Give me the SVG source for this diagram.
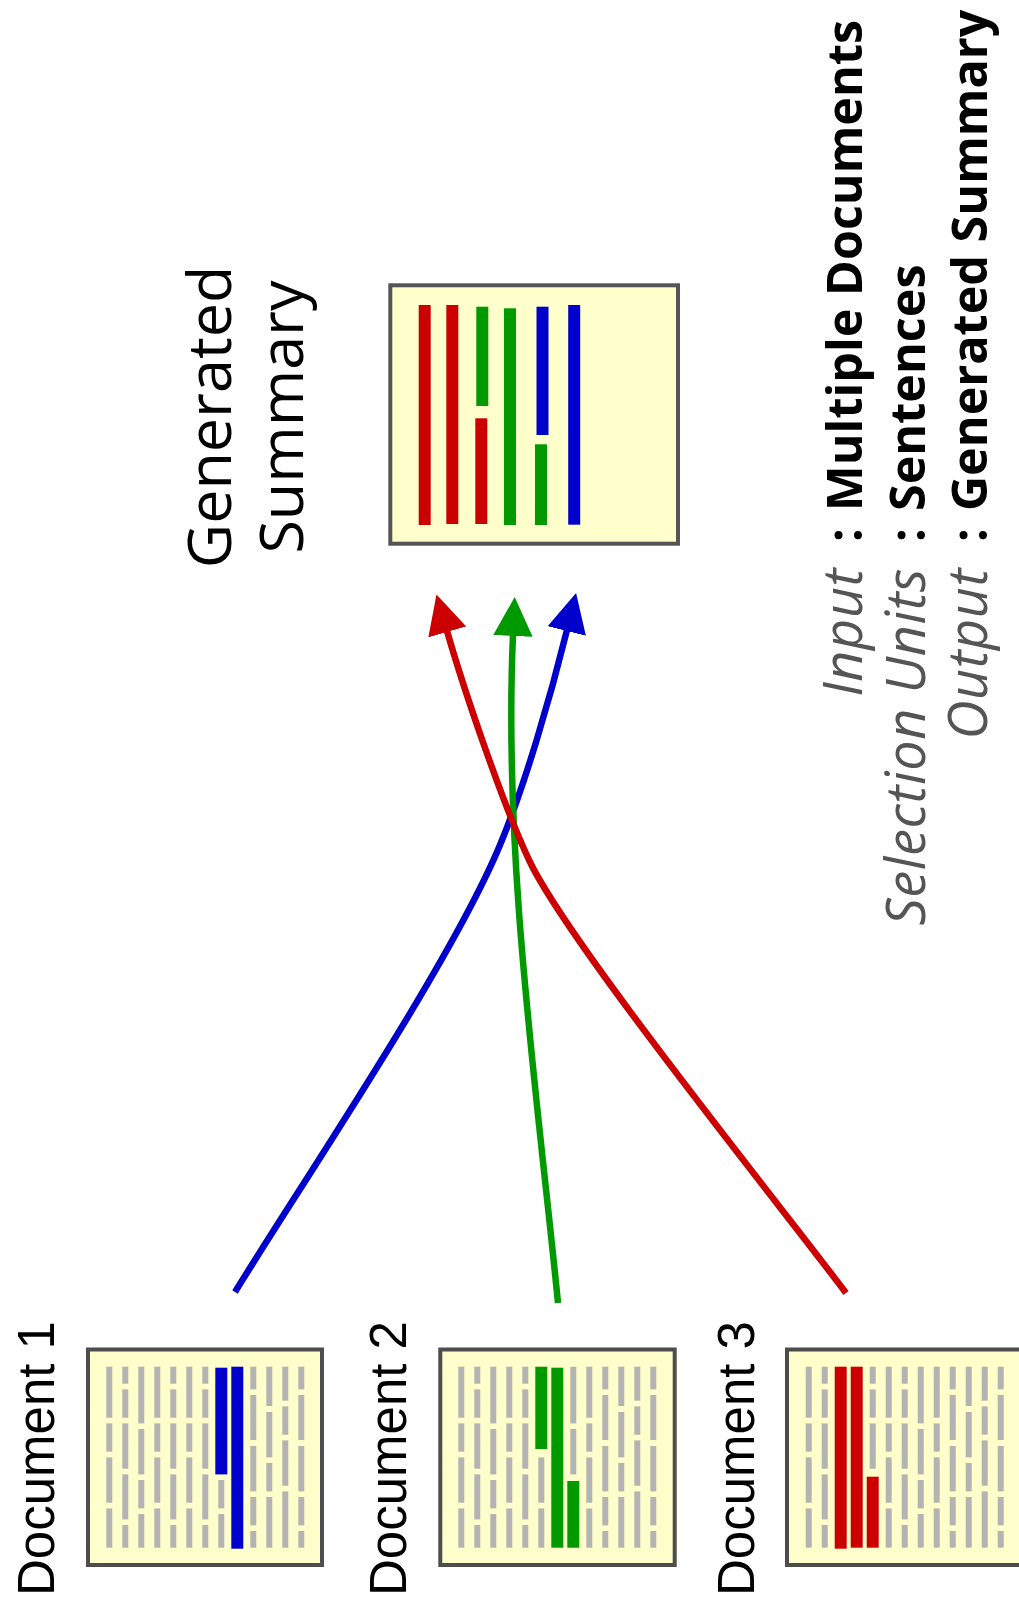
<svg xmlns="http://www.w3.org/2000/svg" xmlns:xlink="http://www.w3.org/1999/xlink" width="1019" height="1605" viewBox="0 0 1019 1605">
  <style>
    .page { fill: #FFFFCC; stroke: #4D4D4D; stroke-width: 4; }
    .sum { fill: #FFFFCC; stroke: #555555; stroke-width: 4; }
    .g { fill: #B3B3B3; }
    .r { fill: #CC0000; }
    .gr { fill: #009900; }
    .b { fill: #0000CC; }
    .lbl { font-family: "Liberation Sans", Arial, sans-serif; font-size: 51px; fill: #000; }
    .title { font-family: "Open Sans", "DejaVu Sans", sans-serif; font-size: 61px; fill: #000; text-anchor: middle; }
    .key { font-family: "Open Sans", "DejaVu Sans", sans-serif; font-size: 54px; letter-spacing: 0.6px; font-style: italic; fill: #555555; text-anchor: end; }
    .colon { font-family: "Open Sans", "DejaVu Sans", sans-serif; font-size: 48.5px; font-weight: bold; fill: #000; text-anchor: middle; }
    .val { font-family: "Open Sans", "DejaVu Sans", sans-serif; font-size: 48.5px; font-weight: bold; fill: #000; }
    .wire { fill: none; stroke-width: 6.5; }
  </style>
  <defs>
    <!-- gray text-line columns, x centred on 0, y from the top of the text block -->
    <g id="colA" class="g"><rect x="-3" y="0" width="6" height="51"/><rect x="-3" y="56.7" width="6" height="28.3"/><rect x="-3" y="90.7" width="6" height="45.3"/><rect x="-3" y="141.7" width="6" height="39.3"/></g>
    <g id="colB" class="g"><rect x="-3" y="0" width="6" height="17"/><rect x="-3" y="22.7" width="6" height="28.3"/><rect x="-3" y="56.7" width="6" height="45.3"/><rect x="-3" y="107.7" width="6" height="45"/><rect x="-3" y="158.3" width="6" height="22.7"/></g>
    <g id="colC" class="g"><rect x="-3" y="0" width="6" height="56.7"/><rect x="-3" y="62.3" width="6" height="45.4"/><rect x="-3" y="113.3" width="6" height="28.4"/><rect x="-3" y="147.3" width="6" height="33.7"/></g>
    <g id="colD" class="g"><rect x="-3" y="0" width="6" height="22.7"/><rect x="-3" y="28.3" width="6" height="45"/><rect x="-3" y="79.3" width="6" height="45.4"/><rect x="-3" y="130.3" width="6" height="28.4"/><rect x="-3" y="164.3" width="6" height="16.7"/></g>
    <g id="colE" class="g"><rect x="-3" y="0" width="6" height="39.3"/><rect x="-3" y="45.3" width="6" height="45.4"/><rect x="-3" y="96.3" width="6" height="28.4"/><rect x="-3" y="130.3" width="6" height="50.7"/></g>
    <g id="colF" class="g"><rect x="-3" y="0" width="6" height="34"/><rect x="-3" y="39.7" width="6" height="28.3"/><rect x="-3" y="73.7" width="6" height="45.3"/><rect x="-3" y="124.7" width="6" height="56.3"/></g>
    <marker id="headR" viewBox="0 -20 40 40" refX="1" refY="0" markerWidth="40" markerHeight="40" markerUnits="userSpaceOnUse" orient="auto">
      <path d="M0,-19.7 L39,0 L0,19.7 Z" fill="#CC0000"/>
    </marker>
    <marker id="headG" viewBox="0 -20 40 40" refX="1" refY="0" markerWidth="40" markerHeight="40" markerUnits="userSpaceOnUse" orient="auto">
      <path d="M0,-19.7 L39,0 L0,19.7 Z" fill="#009900"/>
    </marker>
    <marker id="headB" viewBox="0 -20 40 40" refX="1" refY="0" markerWidth="40" markerHeight="40" markerUnits="userSpaceOnUse" orient="auto">
      <path d="M0,-19.7 L39,0 L0,19.7 Z" fill="#0000CC"/>
    </marker>
  </defs>

  <rect x="0" y="0" width="1019" height="1605" fill="#FFFFFF"/>

  <!-- Document 1: two sentences picked (blue) -->
  <g id="doc1">
    <rect class="page" x="88" y="1349.5" width="234" height="215.5"/>
    <g transform="translate(109.3,1366.7)">
      <use xlink:href="#colA" x="0"/>
      <use xlink:href="#colB" x="16"/>
      <use xlink:href="#colC" x="32"/>
      <use xlink:href="#colA" x="48"/>
      <use xlink:href="#colB" x="64"/>
      <use xlink:href="#colA" x="80"/>
      <use xlink:href="#colB" x="96"/>
      <rect class="g" x="109" y="113.3" width="6" height="28.4"/><rect class="g" x="109" y="147.3" width="6" height="33.7"/>
      <rect class="b" x="106" y="1" width="12" height="106.7"/>
      <rect class="b" x="122" y="0" width="12" height="182"/>
      <use xlink:href="#colD" x="144"/>
      <use xlink:href="#colE" x="160"/>
      <use xlink:href="#colF" x="176"/>
      <use xlink:href="#colD" x="192"/>
    </g>
    <text class="lbl" transform="translate(54,1596) rotate(-90)">Document 1</text>
  </g>

  <!-- Document 2: green sentences -->
  <g id="doc2">
    <rect class="page" x="440.3" y="1349.5" width="234.4" height="215.5"/>
    <g transform="translate(461.3,1366.7)">
      <use xlink:href="#colA" x="0"/>
      <use xlink:href="#colB" x="16"/>
      <use xlink:href="#colC" x="32"/>
      <use xlink:href="#colA" x="48"/>
      <use xlink:href="#colB" x="64"/>
      <rect class="g" x="77" y="90.7" width="6" height="45.3"/><rect class="g" x="77" y="141.7" width="6" height="39.3"/>
      <rect class="gr" x="74" y="0" width="12" height="82.3"/>
      <rect class="gr" x="90" y="1" width="12" height="180"/>
      <rect class="g" x="109" y="0" width="6" height="56.7"/><rect class="g" x="109" y="62.3" width="6" height="45.4"/>
      <rect class="gr" x="106" y="114.3" width="12" height="66.7"/>
      <use xlink:href="#colA" x="128"/>
      <use xlink:href="#colD" x="144"/>
      <use xlink:href="#colE" x="160"/>
      <use xlink:href="#colF" x="176"/>
      <use xlink:href="#colD" x="192"/>
    </g>
    <text class="lbl" transform="translate(406,1596) rotate(-90)">Document 2</text>
  </g>

  <!-- Document 3: red sentences -->
  <g id="doc3">
    <rect class="page" x="787" y="1349.5" width="234" height="215.5"/>
    <g transform="translate(808.7,1366.7)">
      <use xlink:href="#colA" x="0"/>
      <use xlink:href="#colB" x="16"/>
      <rect class="r" x="26" y="0" width="12" height="182"/>
      <rect class="r" x="42" y="0" width="12" height="181"/>
      <rect class="g" x="61" y="0" width="6" height="17"/><rect class="g" x="61" y="22.7" width="6" height="28.3"/><rect class="g" x="61" y="56.7" width="6" height="45.3"/>
      <rect class="r" x="58" y="110" width="12" height="71"/>
      <use xlink:href="#colA" x="80"/>
      <use xlink:href="#colB" x="96"/>
      <use xlink:href="#colC" x="112"/>
      <use xlink:href="#colA" x="128"/>
      <use xlink:href="#colD" x="144"/>
      <use xlink:href="#colE" x="160"/>
      <use xlink:href="#colF" x="176"/>
      <use xlink:href="#colD" x="192"/>
    </g>
    <text class="lbl" transform="translate(754,1596) rotate(-90)">Document 3</text>
  </g>

  <!-- Generated summary built from the selected sentences -->
  <g id="summary">
    <rect class="sum" x="390.3" y="285.3" width="287.7" height="258.4"/>
    <rect class="r" x="418.7" y="305" width="12" height="220"/>
    <rect class="r" x="446.3" y="305" width="12" height="219"/>
    <rect class="gr" x="476.3" y="306.7" width="12" height="99.3"/>
    <rect class="r" x="475.3" y="418.3" width="12" height="105.7"/>
    <rect class="gr" x="504" y="308.3" width="12" height="216.7"/>
    <rect class="b" x="536.5" y="306.7" width="12" height="128.3"/>
    <rect class="gr" x="535" y="444.3" width="12" height="80.7"/>
    <rect class="b" x="568.2" y="305" width="12" height="219.7"/>
    <text class="title" transform="translate(231,417) rotate(-90)">Generated</text>
    <text class="title" transform="translate(303,417) rotate(-90)">Summary</text>
  </g>

  <!-- task legend -->
  <g id="legend">
    <text class="key" transform="translate(862,568) rotate(-90)">Input</text>
    <text class="colon" transform="translate(862,535) rotate(-90)">:</text>
    <text class="val" transform="translate(862,511) rotate(-90)">Multiple Documents</text>
    <text class="key" transform="translate(925,568) rotate(-90)">Selection Units</text>
    <text class="colon" transform="translate(925,535) rotate(-90)">:</text>
    <text class="val" transform="translate(925,511) rotate(-90)">Sentences</text>
    <text class="key" transform="translate(987,568) rotate(-90)">Output</text>
    <text class="colon" transform="translate(987,535) rotate(-90)">:</text>
    <text class="val" transform="translate(987,511) rotate(-90)">Generated Summary</text>
  </g>

  <!-- sentence flows from each document into the summary -->
  <g id="connectors">
    <path class="wire" stroke="#0000CC" marker-end="url(#headB)" d="M235,1292 C300,1186 450,965 500,845 C525,785 551,695 567,630"/>
    <path class="wire" stroke="#009900" marker-end="url(#headG)" d="M558,1303 C538,1100 503,860 513,635"/>
    <path class="wire" stroke="#CC0000" marker-end="url(#headR)" d="M846,1293 C780,1205 570,945 530,862 C506,812 466,697 447,631"/>
  </g>
</svg>
